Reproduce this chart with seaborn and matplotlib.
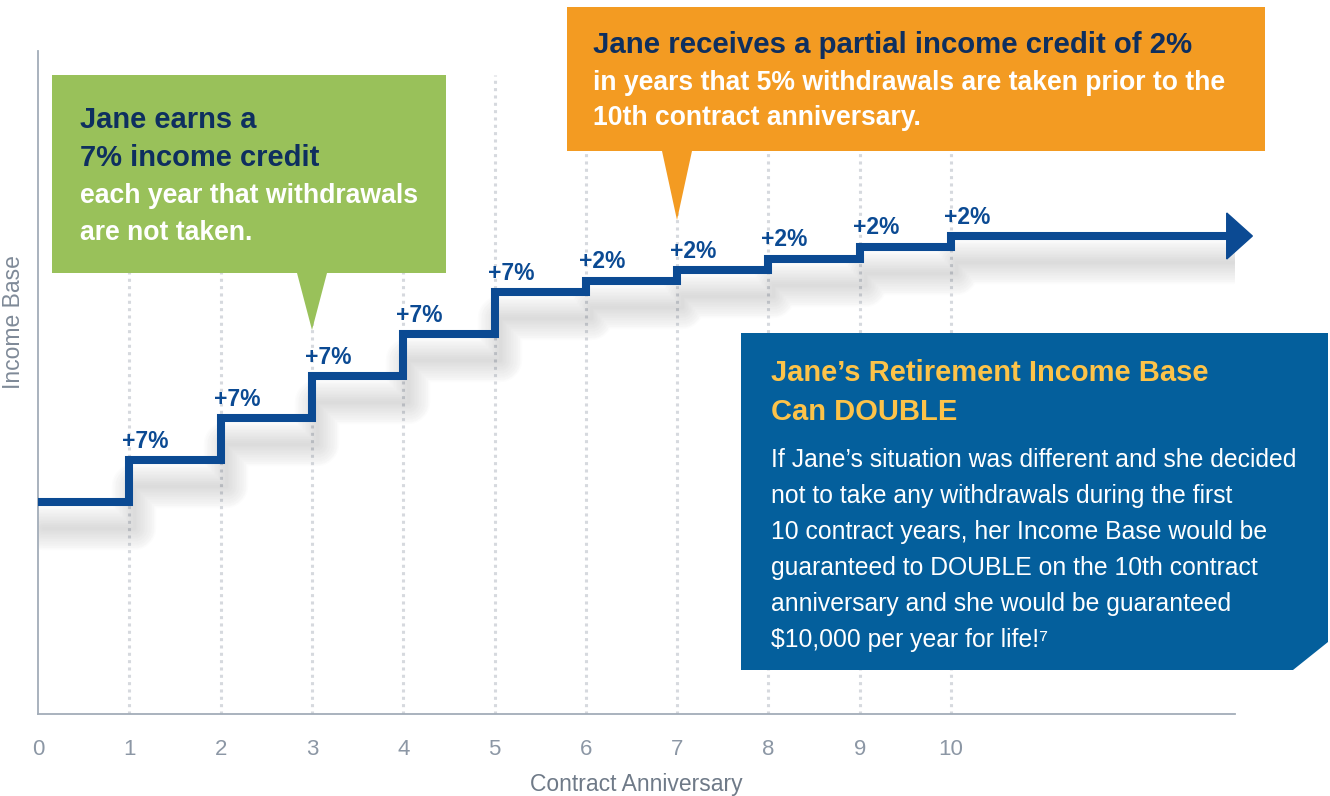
import matplotlib
matplotlib.use("Agg")
import matplotlib.pyplot as plt
import matplotlib.transforms as mtransforms
from matplotlib.patches import Polygon
import seaborn as sns

sns.set_theme(style="white")
plt.rcParams['font.family'] = ['Liberation Sans', 'DejaVu Sans']

# data: income base (arbitrary units) at each contract anniversary
years = [0, 1, 2, 3, 4, 5, 6, 7, 8, 9, 10]
income_base = [212, 254, 296, 338, 380, 422, 433, 444, 455, 467, 478]
credits = [None, 7, 7, 7, 7, 7, 2, 2, 2, 2, 2]
x_end = 13.03      # where the line runs out to the arrow
tick_labels = [str(y) for y in years]

LINE = '#0b4a93'
NAVY = '#0e2f5f'
GRAY = '#8c97a5'

fig = plt.figure(figsize=(13.3, 7.96), dpi=100)
ax = fig.add_axes([38 / 1330, 82 / 796, 1197 / 1330, 663 / 796])
ax.set_xlim(0, 1197 / 91.3)
ax.set_ylim(0, 663)

# dotted guides
ax.vlines(years[1:], 0, 639, colors='#d6d9de', linestyles=(0, (1, 1.4)), lw=2.2, zorder=1)

xs = years + [x_end]
ys = income_base + [income_base[-1]]

# soft drop shadow under the step line (stack of faint wide strokes)
shadow_tr = mtransforms.offset_copy(ax.transData, fig, x=5, y=-26, units='dots')
for w in range(2, 34, 2):
    ax.plot(xs, ys, drawstyle='steps-post', color='#777777', alpha=0.016, lw=w,
            solid_capstyle='round', solid_joinstyle='round', transform=shadow_tr, zorder=2)

sns.lineplot(x=xs, y=ys, drawstyle='steps-post', color=LINE, lw=5.8, ax=ax,
             solid_joinstyle='miter', solid_capstyle='butt', zorder=3)

# arrow head
tip = 1197 / 91.3 + 0.19
ax.add_patch(Polygon([(x_end - 0.01, ys[-1] + 23), (tip, ys[-1]), (x_end - 0.01, ys[-1] - 23)],
                     closed=True, color=LINE, clip_on=False, zorder=3))

for yr, lvl, c in zip(years, income_base, credits):
    if c is None:
        continue
    ax.annotate(f'+{c}%', xy=(yr, lvl), xytext=(-5, 9), textcoords='offset points',
                ha='left', va='baseline', fontsize=16.5, fontweight='bold', color=LINE, zorder=4)

ax.set_xticks(years)
ax.set_xticklabels(tick_labels)
ax.set_yticks([])
ax.tick_params(axis='x', length=0, pad=18, labelsize=16, labelcolor=GRAY)
for s in ['top', 'right']:
    ax.spines[s].set_visible(False)
for s in ['left', 'bottom']:
    ax.spines[s].set_color('#a3adb9')
    ax.spines[s].set_linewidth(1.3)
ax.set_xlabel('Contract Anniversary', fontsize=16.5, color='#6f7a88')
ax.xaxis.set_label_coords(0.5, -0.089)
ax.set_ylabel('Income Base', fontsize=16.5, color='#7f8a98')
ax.yaxis.set_label_coords(-0.0109, 0.591)

# callout boxes, drawn in figure pixels
ov = fig.add_axes([0, 0, 1, 1], zorder=5)
ov.set_xlim(0, 1330)
ov.set_ylim(796, 0)
ov.axis('off')
ov.patch.set_alpha(0)

ov.add_patch(Polygon([(52, 75), (446, 75), (446, 273), (327, 273), (312, 330), (297, 273), (52, 273)],
                     closed=True, facecolor='#99c15a', edgecolor='none'))
ov.add_patch(Polygon([(567, 7), (1265, 7), (1265, 151), (692, 151), (677, 220), (662, 151), (567, 151)],
                     closed=True, facecolor='#f39b22', edgecolor='none'))
ov.add_patch(Polygon([(741, 333), (1328, 333), (1328, 642), (1293, 670), (741, 670)],
                     closed=True, facecolor='#045f9c', edgecolor='none'))

bold = dict(fontweight='bold', va='baseline', ha='left')
ov.text(80, 128, 'Jane earns a', fontsize=21, color=NAVY, **bold)
ov.text(80, 166, '7% income credit', fontsize=21, color=NAVY, **bold)
ov.text(80, 203, 'each year that withdrawals', fontsize=19.2, color='white', **bold)
ov.text(80, 240, 'are not taken.', fontsize=19.2, color='white', **bold)

ov.text(593, 53, 'Jane receives a partial income credit of 2%', fontsize=21.2, color=NAVY, **bold)
ov.text(593, 90, 'in years that 5% withdrawals are taken prior to the', fontsize=19.1, color='white', **bold)
ov.text(593, 125, '10th contract anniversary.', fontsize=19.1, color='white', **bold)

ov.text(771, 381, 'Jane’s Retirement Income Base', fontsize=21, color='#fdc349', **bold)
ov.text(771, 420, 'Can DOUBLE', fontsize=21, color='#fdc349', **bold)
body = ['If Jane’s situation was different and she decided',
        'not to take any withdrawals during the first',
        '10 contract years, her Income Base would be',
        'guaranteed to DOUBLE on the 10th contract',
        'anniversary and she would be guaranteed',
        '$10,000 per year for life!⁷']
for i, line in enumerate(body):
    ov.text(771, 467 + i * 36, line, fontsize=17.8, color='white', va='baseline', ha='left')

plt.savefig('out.png', dpi=100)
